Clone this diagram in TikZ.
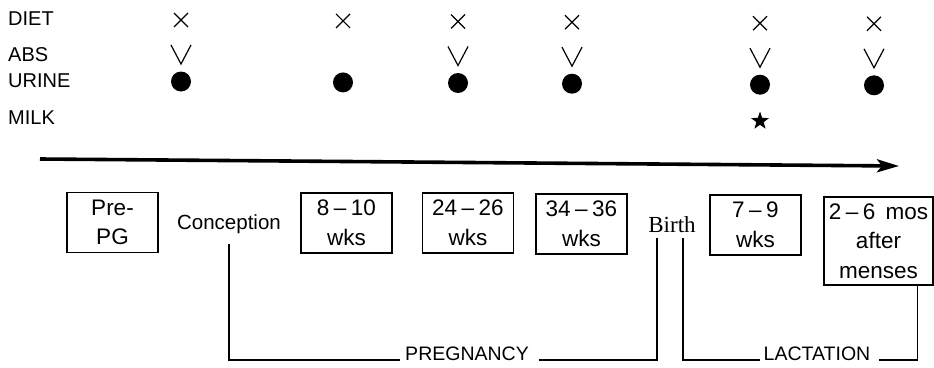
\documentclass[tikz,border=0pt]{standalone}
\usepackage{fontspec}
\newfontfamily\labelfont{Liberation Sans}
\newfontfamily\eventfont{Liberation Serif}
\usetikzlibrary{shapes.geometric,arrows.meta}

% range like "8 - 10" with a spaced dash
\newcommand\rng[2]{#1\hspace{.2em}\textendash\hspace{.2em}#2}

\tikzset{
  lbl/.style={font=\labelfont\fontsize{20.5}{30}\selectfont, inner sep=2pt},
  rowlbl/.style={font=\labelfont\fontsize{20}{24}\selectfont, inner sep=2pt, anchor=west},
  periodlbl/.style={font=\labelfont\fontsize{19.5}{24}\selectfont, inner sep=0pt},
  stagebox/.style={font=\labelfont\fontsize{22.5}{29.5}\selectfont, draw,
    line width=1.2pt, align=center, inner sep=0pt,
    minimum width=91pt, minimum height=60pt},
  bracket/.style={line width=1.4pt},
  timeline/.style={line width=3.6pt, -{Stealth[length=22pt,width=13pt,inset=5pt]}},
  dotmark/.style={circle, fill, minimum size=20pt, inner sep=0pt},
  starmark/.style={star, star points=5, star point ratio=2.5, fill,
    minimum size=19pt, inner sep=0pt},
  xmark/.pic={\draw[line width=1.2pt] (-7,-7) -- (7,7) (-7,7) -- (7,-7);},
  vmark/.pic={\draw[line width=1.2pt] (-10,-9.5) -- (0,9.5) -- (10,-9.5);},
}

\begin{document}
\begin{tikzpicture}[x=1pt, y=-1pt]
  \useasboundingbox (0,0) rectangle (934,367);

  % row headings
  \node[rowlbl] (diet)  at (6,19)    {DIET};
  \node[rowlbl] (abs)   at (6,55)    {ABS};
  \node[rowlbl] (urine) at (6,81)    {URINE};
  \node[rowlbl] (milk)  at (6,117.5) {MILK};

  % sampling columns: x position / drift / has absorption mark
  \foreach \i/\cx/\dy/\hasv in {1/181/0/1, 2/343/0.9/0, 3/458/1.5/1,
                                4/572/2.2/1, 5/760/3.2/1, 6/874/3.8/1} {
    \pic (diet\i) at (\cx,20+\dy) {xmark};
    \ifnum\hasv=1
      \pic (abs\i) at (\cx,54.5+\dy) {vmark};
    \fi
    \node[dotmark] (urine\i) at (\cx,81.5+\dy) {};
  }
  \node[starmark] (milk5) at (760,121) {};

  % time axis
  \coordinate (tstart) at (40,159);
  \coordinate (tend)   at (899,166);
  \draw[timeline] (tstart) -- (tend);

  % stages along the axis
  \node[stagebox] (prepg) at (112.5,222.5) {Pre-\\PG};
  \node[lbl] (concep) at (229,224) {Conception};
  \node[stagebox] (w8)  at (346.5,223) {\rng{8}{10}\\wks};
  \node[stagebox] (w24) at (468,223)   {\rng{24}{26}\\wks};
  \node[stagebox] (w34) at (581.5,224) {\rng{34}{36}\\wks};
  \node[font=\eventfont\fontsize{23}{26}\selectfont, inner sep=2pt] (birth) at (672,225) {Birth};
  \node[stagebox] (w7)  at (755.5,225) {\rng{7}{9}\\wks};
  \node[stagebox, minimum width=109pt, minimum height=88pt] (mos) at (878.5,241)
    {\rng{2}{6}\hspace{.45em}mos\\after\\menses};

  % period brackets
  \node[periodlbl] (preg) at (467,354) {PREGNANCY};
  \node[periodlbl] (lact) at (817,354) {LACTATION};
  \draw[bracket] ([yshift=-8pt]concep.south) |- ([xshift=-5pt,yshift=-6pt]preg.west);
  \draw[bracket] ([xshift=10pt,yshift=-6pt]preg.east) -| ([xshift=-15pt,yshift=-3pt]birth.south);
  \draw[bracket] ([xshift=11pt,yshift=-3pt]birth.south) |- ([xshift=-4pt,yshift=-6pt]lact.west);
  \draw[bracket] ([xshift=9pt,yshift=-6pt]lact.east) -| ([xshift=39pt]mos.south);
\end{tikzpicture}
\end{document}
